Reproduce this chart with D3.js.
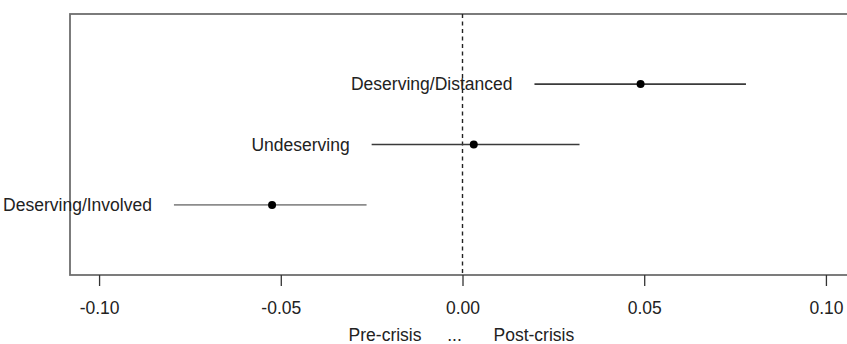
<!DOCTYPE html>
<html>
<head>
<script src="https://d3js.org/d3.v7.min.js"></script>
<style>
  body { margin: 0; background: white; }
  text { font-family: "Liberation Sans", Arial, sans-serif; fill: #222; }
</style>
</head>
<body>
<script>
// estimates
var groups = ["Deserving/Involved", "Undeserving", "Deserving/Distanced"];
var est = [-0.0524, 0.0031, 0.0490];
var lower = [-0.0794, -0.0250, 0.0198];
var upper = [-0.0264, 0.0322, 0.0780];
var xTicks = [-0.10, -0.05, 0.00, 0.05, 0.10];

var width = 847, height = 344;
var margin = {left: 70, top: 14, bottom: 69};

var svg = d3.select("body").append("svg")
  .attr("width", width)
  .attr("height", height);

// R-style 4% extension of xlim c(-0.1, 0.1), ylim c(0, 4)
var x = d3.scaleLinear().domain([-0.108, 0.108]).range([margin.left, 855]);
var y = d3.scaleLinear().domain([-0.16, 4.16]).range([height - margin.bottom, margin.top]);

// box
svg.append("rect")
  .attr("x", x(-0.108)).attr("y", y(4.16))
  .attr("width", x(0.108) - x(-0.108))
  .attr("height", y(-0.16) - y(4.16))
  .attr("fill", "none")
  .attr("stroke", "#6e6e6e")
  .attr("stroke-width", 1.8);

// bottom axis
var axis = svg.append("g")
  .attr("transform", "translate(0," + y(-0.16) + ")")
  .call(d3.axisBottom(x).tickValues(xTicks).tickFormat(d3.format(".2f")).tickSize(11).tickPadding(16));
axis.select(".domain").remove();
axis.selectAll("line").attr("stroke", "#333").attr("stroke-width", 1.3);
axis.selectAll("text")
  .style("font-family", "Liberation Sans, Arial, sans-serif")
  .style("font-size", "17.5px")
  .attr("fill", "#222")
  .text(function(d){ return d3.format(".2f")(d).replace("−", "-"); });

// zero reference line
svg.append("line")
  .attr("x1", x(0)).attr("x2", x(0))
  .attr("y1", y(4.16)).attr("y2", y(-0.16))
  .attr("stroke", "#222")
  .attr("stroke-width", 1.4)
  .attr("stroke-dasharray", "4,3.5");

var rows = groups.map(function(g, i) {
  return {name: g, est: est[i], lo: lower[i], hi: upper[i], pos: i + 1};
});

svg.selectAll("line.ci")
  .data(rows)
  .enter().append("line")
  .attr("class", "ci")
  .attr("x1", function(d){ return x(d.lo); })
  .attr("x2", function(d){ return x(d.hi); })
  .attr("y1", function(d){ return y(d.pos); })
  .attr("y2", function(d){ return y(d.pos); })
  .attr("stroke", function(d, i){ return i === 0 ? "#8c8c8c" : "#3a3a3a"; })
  .attr("stroke-width", 1.7);

svg.selectAll("circle.pt")
  .data(rows)
  .enter().append("circle")
  .attr("class", "pt")
  .attr("cx", function(d){ return x(d.est); })
  .attr("cy", function(d){ return y(d.pos); })
  .attr("r", 4)
  .attr("fill", "#000");

svg.selectAll("text.lab")
  .data(rows)
  .enter().append("text")
  .attr("class", "lab")
  .attr("x", function(d){ return x(d.lo) - 22; })
  .attr("y", function(d){ return y(d.pos); })
  .attr("dy", "0.35em")
  .attr("text-anchor", "end")
  .style("font-size", "17.5px")
  .text(function(d){ return d.name; });

// x axis title
var ty = 335;
svg.append("text").attr("x", x(0) - 41).attr("y", ty).attr("dy", "0.35em")
  .attr("text-anchor", "end").style("font-size", "17.5px").text("Pre-crisis");
svg.append("text").attr("x", x(0) - 8).attr("y", ty).attr("dy", "0.35em")
  .attr("text-anchor", "middle").style("font-size", "17.5px").text("...");
svg.append("text").attr("x", x(0) + 31).attr("y", ty).attr("dy", "0.35em")
  .attr("text-anchor", "start").style("font-size", "17.5px").text("Post-crisis");
</script>
</body>
</html>
